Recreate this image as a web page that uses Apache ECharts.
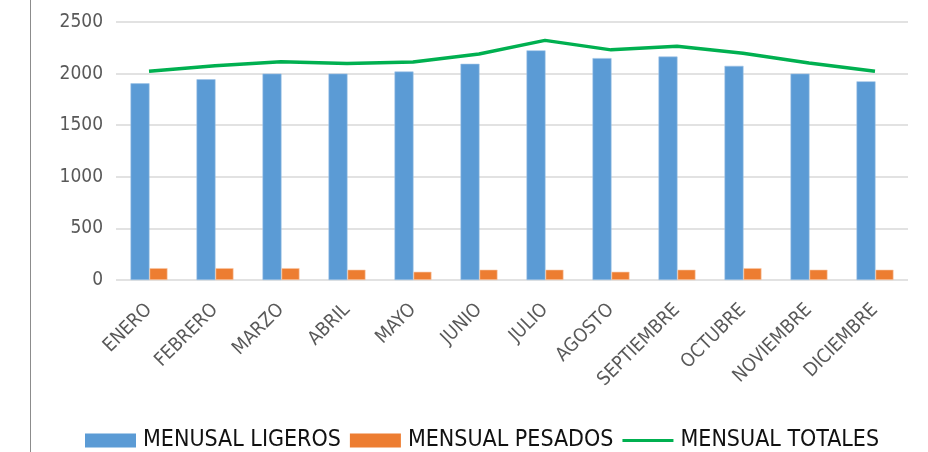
<!DOCTYPE html>
<html>
<head>
<meta charset="utf-8">
<script src="https://cdn.jsdelivr.net/npm/echarts@6/dist/echarts.min.js"></script>
<style>
  html, body { margin: 0; padding: 0; background: #fff; }
  #chart { width: 928px; height: 452px; }
</style>
</head>
<body>
<div id="chart"></div>
<script>
// Monthly vehicle counts
const meses = ['ENERO', 'FEBRERO', 'MARZO', 'ABRIL', 'MAYO', 'JUNIO', 'JULIO', 'AGOSTO', 'SEPTIEMBRE', 'OCTUBRE', 'NOVIEMBRE', 'DICIEMBRE'];
const ligeros = [1906, 1945, 2000, 2000, 2020, 2095, 2225, 2150, 2165, 2075, 2000, 1925];
const pesados = [115, 115, 115, 100, 80, 100, 100, 80, 100, 115, 100, 100];
const totales = [2023, 2075, 2115, 2097, 2112, 2190, 2322, 2230, 2266, 2197, 2102, 2023];
const yTicks = [0, 500, 1000, 1500, 2000, 2500];

const FONT = "'DejaVu Sans Condensed', 'Liberation Sans', sans-serif";

const chart = echarts.init(document.getElementById('chart'), null, { renderer: 'canvas' });

chart.setOption({
  animation: false,
  backgroundColor: '#ffffff',
  grid: { left: 116, right: 20, top: 22, bottom: 172, containLabel: false },
  graphic: [
    {
      type: 'line',
      shape: { x1: 30.5, y1: 0, x2: 30.5, y2: 452 },
      style: { stroke: '#8c8c8c', lineWidth: 1 }
    }
  ],
  legend: {
    left: 85,
    top: 429,
    padding: 0,
    itemWidth: 51,
    itemHeight: 14,
    itemGap: 9,
    symbolKeepAspect: true,
    itemStyle: { borderWidth: 0 },
    textStyle: { fontFamily: FONT, fontSize: 23, color: '#111111', padding: [0, 0, 0, 2] },
    data: [
      { name: 'MENUSAL LIGEROS', icon: 'rect' },
      { name: 'MENSUAL PESADOS', icon: 'rect' },
      { name: 'MENSUAL TOTALES', icon: 'path://M0,0H100V6H0Z' }
    ]
  },
  xAxis: {
    type: 'category',
    data: meses,
    axisLine: { show: false },
    axisTick: { show: false },
    axisLabel: {
      rotate: 45,
      interval: 0,
      margin: 27,
      fontFamily: FONT,
      fontSize: 19,
      color: '#595959'
    }
  },
  yAxis: {
    type: 'value',
    min: yTicks[0],
    max: yTicks[yTicks.length - 1],
    interval: 500,
    axisLine: { show: false },
    axisTick: { show: false },
    axisLabel: {
      fontFamily: FONT,
      fontSize: 19,
      color: '#595959',
      margin: 13,
      formatter: (v) => String(v)
    },
    splitLine: { lineStyle: { color: '#d9d9d9', width: 1.5 } }
  },
  series: [
    {
      name: 'MENUSAL LIGEROS',
      type: 'bar',
      data: ligeros,
      barWidth: 19,
      barGap: '0%',
      itemStyle: { color: '#5b9bd5', borderColor: '#9dc3e6', borderWidth: 0.6 }
    },
    {
      name: 'MENSUAL PESADOS',
      type: 'bar',
      data: pesados,
      barWidth: 18,
      barGap: '0%',
      itemStyle: { color: '#ed7d31', borderColor: '#f8cbad', borderWidth: 0.6 }
    },
    {
      name: 'MENSUAL TOTALES',
      type: 'line',
      data: totales,
      symbol: 'none',
      showSymbol: false,
      lineStyle: { color: '#00b050', width: 3.5 },
      itemStyle: { color: '#00b050' },
      z: 5
    }
  ]
});
</script>
</body>
</html>
